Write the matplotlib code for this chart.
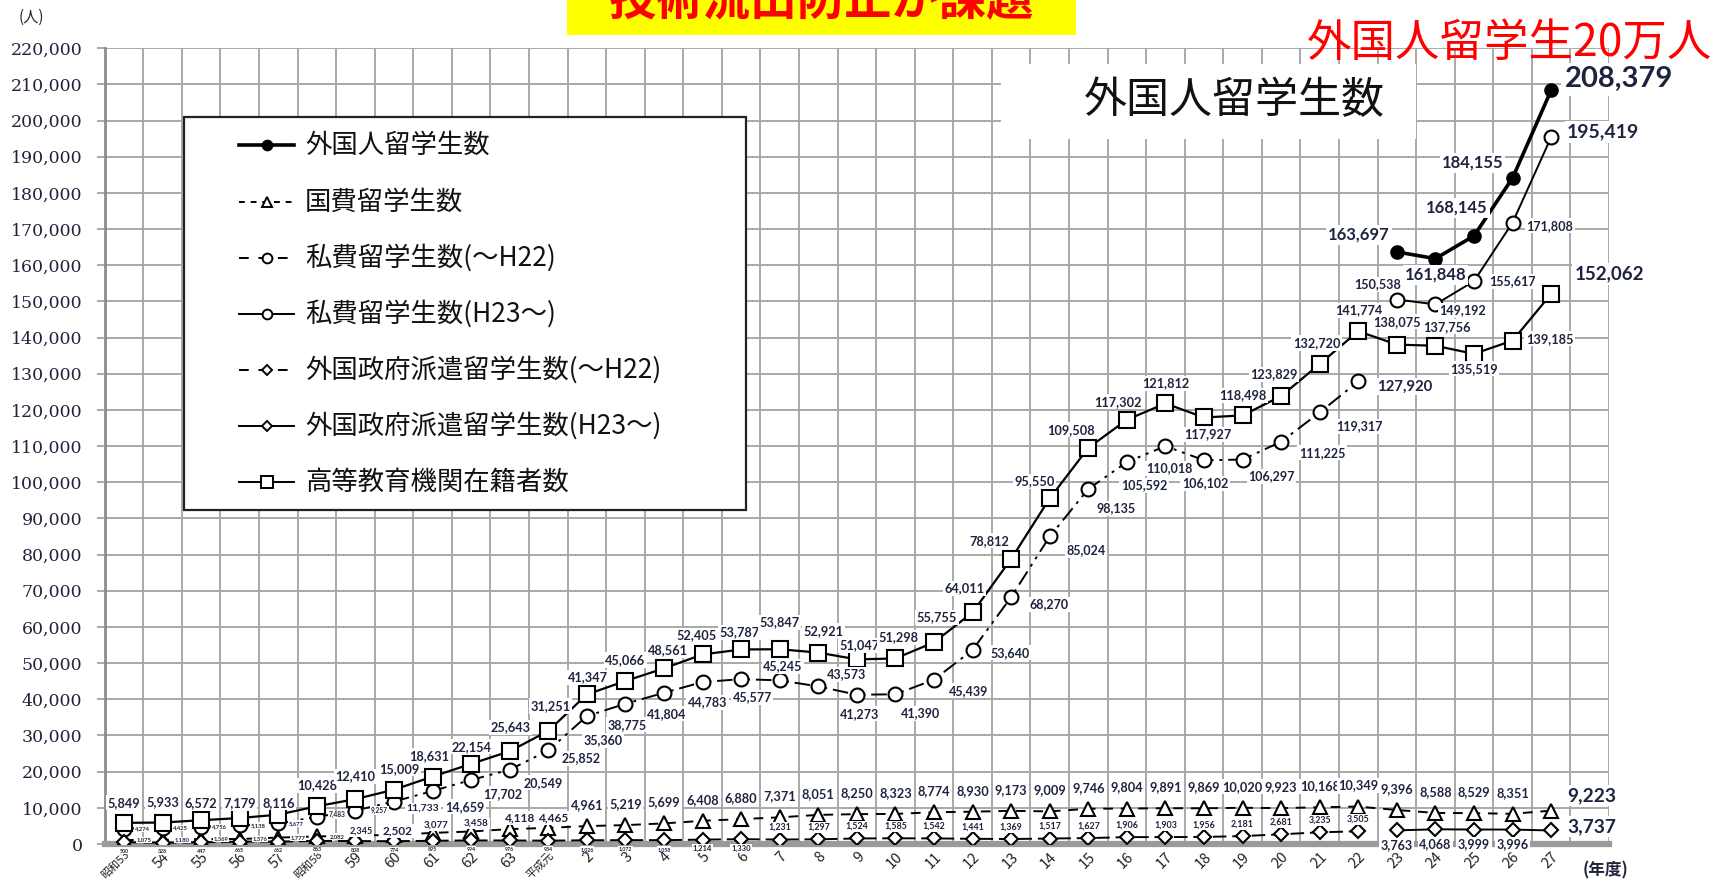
import matplotlib
matplotlib.use("Agg")
import matplotlib.pyplot as plt
from matplotlib.patches import Rectangle
from matplotlib.lines import Line2D
import numpy as np

plt.rcParams['font.family'] = ['Noto Sans CJK JP', 'DejaVu Sans']

# ---------------- data ----------------
year_labels = ['昭和53', '54', '55', '56', '57', '昭和58', '59', '60', '61', '62', '63', '平成元',
               '2', '3', '4', '5', '6', '7', '8', '9', '10', '11', '12', '13', '14', '15', '16',
               '17', '18', '19', '20', '21', '22', '23', '24', '25', '26', '27']

higher_ed = [5849, 5933, 6572, 7179, 8116, 10428, 12410, 15009, 18631, 22154, 25643,
             31251, 41347, 45066, 48561, 52405, 53787, 53847, 52921, 51047, 51298,
             55755, 64011, 78812, 95550, 109508, 117302, 121812, 117927, 118498,
             123829, 132720, 141774, 138075, 137756, 135519, 139185, 152062]
kokuhi = [1075, 1180, 1369, 1376, 1777, 2082, 2345, 2502, 3077, 3458, 4118, 4465,
          4961, 5219, 5699, 6408, 6880, 7371, 8051, 8250, 8323, 8774, 8930, 9173,
          9009, 9746, 9804, 9891, 9869, 10020, 9923, 10168, 10349, 9396, 8588, 8529,
          8351, 9223]
shihi_old = [4274, 4425, 4756, 5138, 5677, 7483, 9257, 11733, 14659, 17702, 20549,
             25852, 35360, 38775, 41804, 44783, 45577, 45245, 43573, 41273, 41390,
             45439, 53640, 68270, 85024, 98135, 105592, 110018, 106102, 106297,
             111225, 119317, 127920]
gov_old = [500, 328, 447, 665, 662, 863, 808, 774, 895, 994, 976, 934, 1026, 1072,
           1058, 1214, 1330, 1231, 1297, 1524, 1585, 1542, 1441, 1369, 1517, 1627,
           1906, 1903, 1956, 2181, 2681, 3235, 3505]
total_new = [163697, 161848, 168145, 184155, 208379]
shihi_new = [150538, 149192, 155617, 171808, 195419]
gov_new = [3763, 4068, 3999, 3996, 3737]

series_names = ['外国人留学生数', '国費留学生数', '私費留学生数(～H22)', '私費留学生数(H23～)',
                '外国政府派遣留学生数(～H22)', '外国政府派遣留学生数(H23～)', '高等教育機関在籍者数']

# ---------------- layout / style ----------------
W, H = 1721, 888
LAB = '#1e2440'
GRID = '#a9a9a9'

fig = plt.figure(figsize=(W / 100, H / 100), dpi=100)
ax = fig.add_axes([104.7 / W, 44 / H, (1609 - 104.7) / W, (844 - 48.3) / H])

n = len(year_labels)
x_all = np.arange(n)
n_old = len(shihi_old)
x_old = x_all[:n_old]
x_new = x_all[n_old:]

ax.set_xlim(-0.5, n + 0.5)
ax.set_ylim(0, 220000)

yt = np.arange(0, 220001, 10000)
ax.set_yticks(yt)
ax.set_yticklabels([f"{v:,}" for v in yt], family='DejaVu Serif', fontsize=12.5, color='#20233a')
ax.set_xticks(x_all)
xtl = ax.set_xticklabels(year_labels, rotation=45, ha='right', rotation_mode='anchor',
                         fontsize=10.5, color='#222222')
for t in xtl:
    if len(t.get_text()) > 2:
        t.set_fontsize(8)
ax.set_xticks(np.arange(-0.5, n + 1, 1), minor=True)
ax.grid(which='minor', axis='x', color=GRID, lw=1.4, zorder=0)
ax.grid(which='major', axis='y', color=GRID, lw=1.4, zorder=0)
ax.set_axisbelow(True)
ax.tick_params(axis='x', which='both', length=0, pad=4)
ax.tick_params(axis='y', length=6, color=GRID, width=1.4, pad=10)
for s in ['top', 'right']:
    ax.spines[s].set_visible(False)
ax.spines['left'].set_color('#8c8c8c')
ax.spines['left'].set_linewidth(2)
ax.spines['bottom'].set_color('#9a9a9a')
ax.spines['bottom'].set_linewidth(4.5)

mk = dict(markeredgecolor='black', markeredgewidth=1.5, color='black')

ln_total, = ax.plot(x_new, total_new, '-', marker='o', ms=9, lw=2.6,
                    markerfacecolor='black', zorder=4, **mk)
ln_kok, = ax.plot(x_all, kokuhi, linestyle=(0, (5, 4)), marker='^', ms=10, lw=1.4,
                  markerfacecolor='white', zorder=3, **mk)
ln_sh_old, = ax.plot(x_old, shihi_old, linestyle=(0, (8, 3, 1.5, 3, 1.5, 3)), marker='o', ms=10,
                     lw=1.4, markerfacecolor='white', zorder=3, **mk)
ln_sh_new, = ax.plot(x_new, shihi_new, '-', marker='o', ms=10, lw=1.4,
                     markerfacecolor='white', zorder=3, **mk)
ln_gov_old, = ax.plot(x_old, gov_old, linestyle=(0, (7, 3)), marker='D', ms=7, lw=1.4,
                      markerfacecolor='white', zorder=3, **mk)
ln_gov_new, = ax.plot(x_new, gov_new, '-', marker='D', ms=7, lw=1.4,
                      markerfacecolor='white', zorder=3, **mk)
ln_he, = ax.plot(x_all, higher_ed, '-', marker='s', ms=11, lw=1.6,
                 markerfacecolor='white', zorder=3, **mk)


def put_labels(xs, vals, default_off, offsets, default_size, sizes, weight='bold'):
    for k, (xx, v) in enumerate(zip(xs, vals)):
        dx, dy = offsets.get(k, default_off)
        fs = sizes.get(k, default_size)
        ax.annotate(f"{v:,}", (xx, v), xytext=(dx, dy), textcoords='offset pixels',
                    ha='center', va='center', fontsize=fs, color=LAB, family='Lato',
                    weight=weight, zorder=6,
                    bbox=dict(boxstyle='square,pad=0.12', fc='white', ec='none'))


# 高等教育機関在籍者数
he_off = {0: (0, 20), 1: (0, 20), 2: (0, 17), 3: (0, 15), 4: (0, 12), 5: (0, 21), 6: (0, 23),
          7: (5, 21), 8: (-3, 21), 9: (0, 17), 10: (1, 24), 11: (2, 25), 12: (1, 17), 13: (0, 21),
          14: (4, 18), 15: (-6, 19), 16: (-2, 17), 17: (0, 27), 18: (5, 22), 19: (3, 14),
          20: (3, 21), 21: (3, 25), 22: (-8, 24), 23: (-22, 18), 24: (-15, 17), 25: (-17, 18),
          26: (-9, 18), 27: (0, 20), 28: (4, -17), 29: (0, 20), 30: (-7, 22), 31: (-3, 21),
          32: (0, 21), 33: (0, 23), 34: (11, 19), 35: (0, -15), 36: (37, 2), 37: (58, 20)}
put_labels(x_all, higher_ed, (0, 20), he_off, 9.2, {37: 13.5})

# 私費(～H22)
sh_off = {0: (18, 0), 1: (18, 0), 2: (18, 0), 3: (18, 0), 4: (18, 0), 5: (20, 2), 6: (24, 0),
          7: (29, -7), 8: (32, -16), 9: (32, -14), 10: (34, -13), 11: (33, -8), 12: (16, -24),
          13: (2, -21), 14: (3, -21), 15: (5, -20), 16: (11, -18), 17: (3, 14), 18: (28, 12),
          19: (3, -19), 20: (25, -19), 21: (35, -11), 22: (38, -3), 23: (38, -7), 24: (36, -14),
          25: (28, -19), 26: (17, -23), 27: (4, -22), 28: (1, -23), 29: (29, -17), 30: (41, -11),
          31: (40, -14), 32: (46, -5)}
sh_size = {0: 4.2, 1: 4.2, 2: 4.2, 3: 4.2, 4: 4.2, 5: 4.8, 6: 4.8, 7: 7.5, 32: 10.7}
put_labels(x_old, shihi_old, (0, -20), sh_off, 9.0, sh_size)

# 国費
kok_off = {0: (20, 0), 1: (20, 0), 2: (20, 0), 3: (20, 0), 4: (20, 0), 5: (20, 0),
           6: (6, 4), 7: (4, 4), 8: (4, 8), 9: (5, 8), 10: (10, 11), 11: (6, 10), 37: (41, 15)}
kok_size = {0: 4.2, 1: 4.2, 2: 4.2, 3: 4.2, 4: 4.2, 5: 4.2, 6: 6.6, 7: 8.5, 8: 7, 9: 7,
            10: 8.6, 11: 8.6, 37: 13.8}
put_labels(x_all, kokuhi, (0, 21), kok_off, 9.2, kok_size)

# 外国政府派遣(～H22)
gov_off = {k: (0, -9) for k in range(17)}
gov_size = {k: 3.8 for k in range(15)}
gov_size.update({15: 5.5, 16: 5.5})
put_labels(x_old, gov_old, (0, 12), gov_off, 6.4, gov_size)

# 外国政府派遣(H23～)
put_labels(x_new, gov_new, (0, -15), {4: (41, 4)}, 9.1, {4: 13.8})

# 私費(H23～)
put_labels(x_new, shihi_new, (0, 18),
           {0: (-19, 15), 1: (27, -6), 2: (38, 0), 3: (37, -3), 4: (52, 5)}, 9.1, {4: 14})

# 外国人留学生数
put_labels(x_new, total_new, (0, 18),
           {0: (-38, 17), 1: (0, -16), 2: (-17, 28), 3: (-40, 15), 4: (68, 11)}, 12, {4: 21})

# ---------------- figure-level decorations ----------------
def fx(px):
    return px / W


def fy(py):
    return 1 - py / H


# yellow banner at top (its text is cropped by the top edge, as in the source image)
fig.add_artist(Rectangle((fx(567), fy(35)), fx(1076) - fx(567), 0.05, transform=fig.transFigure,
                         fc='#ffff00', ec='none', zorder=5))
fig.text(fx(821), fy(15), '技術流出防止が課題', ha='center', va='baseline', color='#ff0000',
         fontsize=34, weight='bold', zorder=6)

# red note
fig.text(fx(1712), fy(43), '外国人留学生20万人', ha='right', va='center', color='#ff0000',
         fontsize=32, zorder=6)

# chart title with white box
fig.add_artist(Rectangle((fx(1001), fy(139)), fx(1416) - fx(1001), fy(64) - fy(139),
                         transform=fig.transFigure, fc='white', ec='none', zorder=2))
fig.text(fx(1234), fy(101), '外国人留学生数', ha='center', va='center', fontsize=31,
         color='#111111', zorder=3)

# units
fig.text(fx(31), fy(17), '(人)', ha='center', va='center', fontsize=11, color='#20233a')
fig.text(fx(1605), fy(870), '(年度)', ha='center', va='center', fontsize=12, weight='bold',
         color='#20233a')

# legend (drawn manually to match the boxed layout)
fig.add_artist(Rectangle((fx(184), fy(510)), fx(746) - fx(184), fy(117) - fy(510),
                         transform=fig.transFigure, fc='white', ec='#222222', lw=1.6, zorder=2))
leg_styles = [
    dict(linestyle='-', lw=2.6, marker='o', mfc='black', ms=7),
    dict(linestyle=(0, (3, 3)), lw=1.4, marker='^', mfc='white', ms=7),
    dict(linestyle=(0, (5, 5)), lw=1.4, marker='o', mfc='white', ms=7),
    dict(linestyle='-', lw=1.4, marker='o', mfc='white', ms=7),
    dict(linestyle=(0, (5, 5)), lw=1.4, marker='D', mfc='white', ms=5),
    dict(linestyle='-', lw=1.4, marker='D', mfc='white', ms=5),
    dict(linestyle='-', lw=1.4, marker='s', mfc='white', ms=8),
]
row_y = [145, 202, 258, 314, 370, 426, 482]
for name, st, ry in zip(series_names, leg_styles, row_y):
    fig.add_artist(Line2D([fx(239), fx(294)], [fy(ry), fy(ry)], transform=fig.transFigure,
                          color='black', linestyle=st['linestyle'], lw=st['lw'], zorder=3))
    fig.add_artist(Line2D([fx(267)], [fy(ry)], transform=fig.transFigure, marker=st['marker'],
                          ms=st['ms'], mfc=st['mfc'], mec='black', mew=1.4, linestyle='none',
                          zorder=4))
    fig.text(fx(305), fy(ry), name, ha='left', va='center', fontsize=19, color='#111111',
             zorder=4)

fig.savefig('out.png', dpi=100)
